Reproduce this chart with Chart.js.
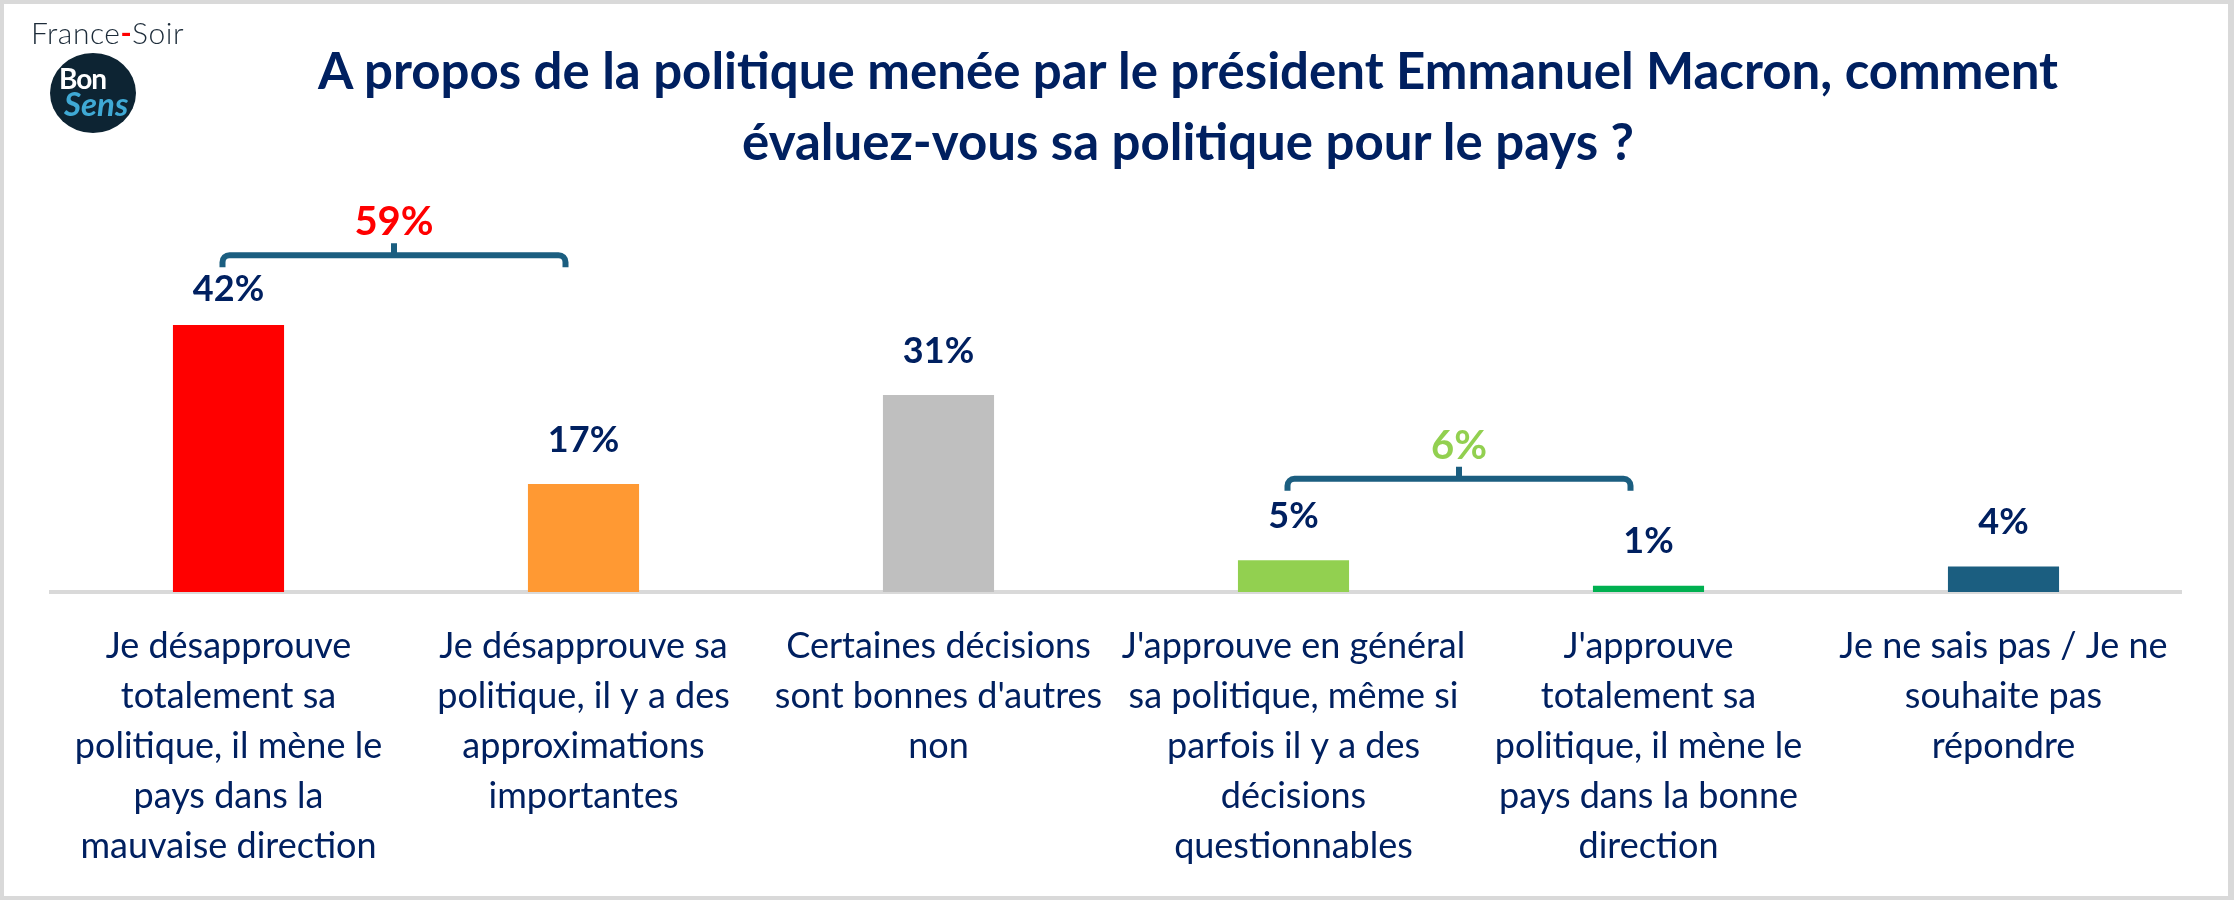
<!DOCTYPE html>
<html lang="fr">
<head>
<meta charset="utf-8">
<title>Politique Macron</title>
<script src="https://cdn.jsdelivr.net/npm/chart.js@4.4.1/dist/chart.umd.min.js"></script>
<style>
  html, body { margin: 0; padding: 0; background: #fff; }
  #wrap { position: relative; width: 2234px; height: 900px; overflow: hidden; }
  #chart { position: absolute; left: 0; top: 0; }
  #frame { position: absolute; left: 0; top: 0; width: 2234px; height: 900px; box-sizing: border-box;
           border: 4px solid #d9d9d9; border-right-width: 6px; pointer-events: none; }
  #title { position: absolute; left: 188px; width: 2000px; top: 34px; text-align: center;
           font: bold 51px Lato, sans-serif; color: #002060; line-height: 71px; }
  #brand { position: absolute; left: 31px; top: 14px; font: 300 30px Lato, sans-serif; color: #1c2b39; letter-spacing: 0.5px; }
  #brand span { color: #ff0000; font-weight: bold; }
  #badge { position: absolute; left: 50px; top: 53px; width: 86px; height: 80px; border-radius: 50%; background: #0d2433; }
  #badge .bon { position: absolute; left: 9px; top: 8px; font: bold 28px Lato, sans-serif; color: #fff; letter-spacing: -1px; }
  #badge .sens { position: absolute; left: 14px; top: 30px; font: italic bold 33px Lato, sans-serif; color: #3fa9d5; }
</style>
</head>
<body>
<div id="wrap">
  <canvas id="chart" width="2234" height="900"></canvas>
  <div id="brand">France<span>-</span>Soir</div>
  <div id="badge"><div class="bon">Bon</div><div class="sens">Sens</div></div>
  <div id="title">A propos de la politique menée par le président Emmanuel Macron, comment<br>évaluez-vous sa politique pour le pays ?</div>
  <div id="frame"></div>
</div>
<script>
// Answers (x axis categories, wrapped as in the source)
const categories = [
  ["Je désapprouve", "totalement sa", "politique, il mène le", "pays dans la", "mauvaise direction"],
  ["Je désapprouve sa", "politique, il y a des", "approximations", "importantes"],
  ["Certaines décisions", "sont bonnes d'autres", "non"],
  ["J'approuve en général", "sa politique, même si", "parfois il y a des", "décisions", "questionnables"],
  ["J'approuve", "totalement sa", "politique, il mène le", "pays dans la bonne", "direction"],
  ["Je ne sais pas / Je ne", "souhaite pas", "répondre"]
];

// Share of respondents, in %
const shares = [42, 17, 31, 5, 1, 4];

// Grouped totals shown above the brackets
const groupRanges = [[0, 1], [3, 4]];
const groupTotals = [59, 6];

const barColors = ["#ff0000", "#ff9933", "#bfbfbf", "#92d050", "#00b050", "#1b5e80"];
const NAVY = "#002060";

// value labels on top of the bars + brackets for the grouped totals
const annotate = {
  id: "annotate",
  afterDatasetsDraw(chart, args, opts) {
    const ctx = chart.ctx;
    const xs = chart.scales.x, ys = chart.scales.y;
    ctx.save();
    ctx.textAlign = "center";
    ctx.textBaseline = "middle";

    ctx.font = "bold 36px Lato, sans-serif";
    ctx.fillStyle = NAVY;
    chart.getDatasetMeta(0).data.forEach((bar, i) => {
      ctx.fillText(shares[i] + "%", bar.x, bar.y - opts.labelGap[i]);
    });

    groupRanges.forEach((range, g) => {
      const x0 = xs.getPixelForValue(range[0]) - 6;
      const x1 = xs.getPixelForValue(range[1]) - 18;
      const xm = (x0 + x1) / 2;
      const y = ys.getPixelForValue(opts.levels[g]);
      const r = 7, leg = 12;
      ctx.strokeStyle = opts.bracketColor;
      ctx.lineWidth = 6;
      ctx.lineCap = "butt";
      ctx.beginPath();
      ctx.moveTo(x0, y + leg);
      ctx.arcTo(x0, y, x0 + r, y, r);
      ctx.lineTo(x1 - r, y);
      ctx.arcTo(x1, y, x1, y + leg, r);
      ctx.lineTo(x1, y + leg);
      ctx.moveTo(xm, y);
      ctx.lineTo(xm, y - leg);
      ctx.stroke();

      ctx.font = "bold 40px Lato, sans-serif";
      ctx.fillStyle = opts.totalColors[g];
      ctx.fillText(groupTotals[g] + "%", xm, y - 33);
    });
    ctx.restore();
  }
};

new Chart(document.getElementById("chart"), {
  type: "bar",
  data: {
    labels: categories,
    datasets: [{
      data: shares,
      backgroundColor: barColors,
      borderWidth: 0,
      categoryPercentage: 1,
      barPercentage: 0.313
    }]
  },
  options: {
    responsive: false,
    animation: false,
    layout: { padding: { left: 51, right: 53, top: 20, bottom: 0 } },
    plugins: {
      legend: { display: false },
      tooltip: { enabled: false },
      annotate: {
        labelGap: [36, 44, 44, 44, 44, 44],
        levels: [53, 17.8],
        bracketColor: "#1b5e80",
        totalColors: ["#ff0000", "#92d050"]
      }
    },
    scales: {
      x: {
        grid: { display: false, drawTicks: false },
        border: { display: true, color: "#d9d9d9", width: 4 },
        ticks: {
          color: NAVY,
          font: { family: "Lato, sans-serif", size: 36, lineHeight: "50px" },
          padding: 29,
          maxRotation: 0,
          autoSkip: false
        }
      },
      y: { display: false, min: 0, max: 90 }
    }
  },
  plugins: [annotate]
});
</script>
</body>
</html>
